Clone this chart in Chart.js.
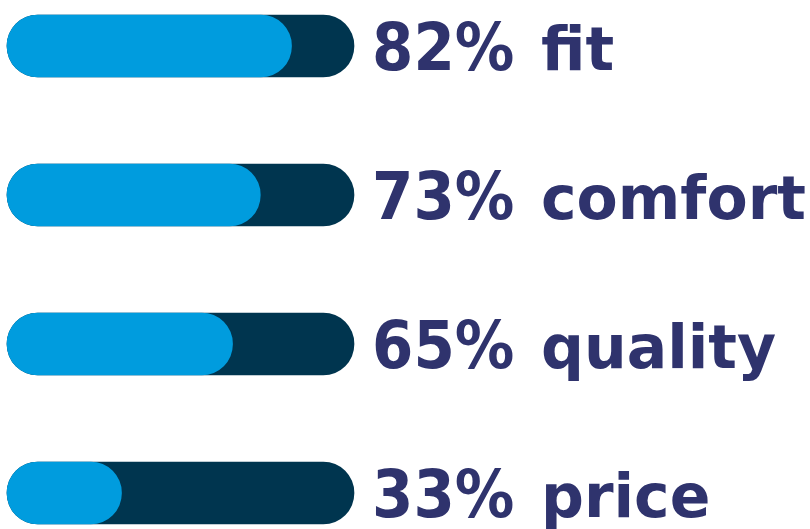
<!DOCTYPE html>
<html>
<head>
<meta charset="utf-8">
<script src="https://cdn.jsdelivr.net/npm/chart.js@4"></script>
<style>
  html, body { margin: 0; padding: 0; background: #fff; }
  canvas { display: block; }
</style>
</head>
<body>
<canvas id="ratings" width="810" height="529"></canvas>
<script>
// categories and their share of positive ratings (%)
const categories = ["fit", "comfort", "quality", "price"];
const shares = [82, 73, 65, 33];
const fullTrack = [100, 100, 100, 100];

const lightBlue = "#009cde";
const darkTrack = "#00354f";
const textColor = "#2f336d";

// draws "82%  fit" to the right of each bar
const barLabels = {
  id: "barLabels",
  afterDatasetsDraw(chart) {
    const ctx = chart.ctx;
    const meta = chart.getDatasetMeta(1);
    const right = chart.scales.x.getPixelForValue(100);
    ctx.save();
    ctx.fillStyle = textColor;
    ctx.textAlign = "left";
    ctx.textBaseline = "alphabetic";
    meta.data.forEach((bar, i) => {
      const base = bar.y + 24;
      // percentage: a bit taller, squeezed horizontally
      ctx.save();
      ctx.translate(right + 18, base);
      ctx.scale(0.915, 1);
      ctx.font = "bold 65px 'DejaVu Sans'";
      ctx.fillText(shares[i] + "%", 0, 0);
      ctx.restore();
      ctx.font = "bold 60px 'DejaVu Sans'";
      ctx.fillText(categories[i], right + 187, base);
    });
    ctx.restore();
  }
};

new Chart(document.getElementById("ratings"), {
  type: "bar",
  data: {
    labels: categories,
    datasets: [
      {
        label: "share",
        data: shares,
        backgroundColor: lightBlue,
        order: 0
      },
      {
        label: "track",
        data: fullTrack,
        backgroundColor: darkTrack,
        order: 1
      }
    ]
  },
  options: {
    indexAxis: "y",
    responsive: false,
    animation: false,
    layout: { padding: { left: 7, right: 456, top: 46, bottom: 36 } },
    datasets: {
      bar: {
        grouped: false,
        barThickness: 62,
        borderRadius: 31,
        borderSkipped: false,
        clip: false
      }
    },
    scales: {
      x: { display: false, min: 0, max: 100 },
      y: { display: false, offset: false }
    },
    plugins: {
      legend: { display: false },
      tooltip: { enabled: false }
    }
  },
  plugins: [barLabels]
});
</script>
</body>
</html>
